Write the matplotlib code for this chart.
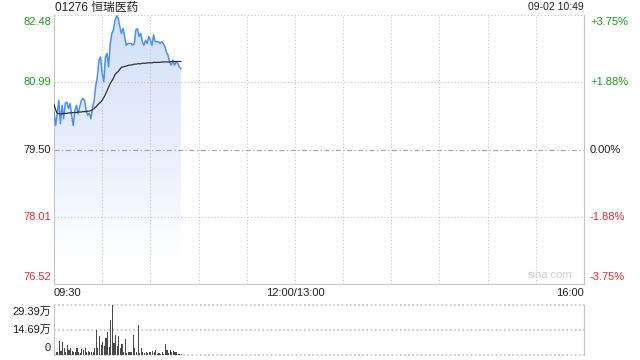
import numpy as np
import matplotlib
matplotlib.use("Agg")
import matplotlib.pyplot as plt
from matplotlib.patches import Polygon

plt.rcParams["font.family"] = ["Liberation Sans", "Noto Sans CJK SC", "DejaVu Sans"]
plt.rcParams["font.size"] = 8

# --- data ---
title = "01276 恒瑞医药"
stamp = "09-02 10:49"
prev_close = 79.50
price_ticks = [76.52, 78.01, 79.50, 80.99, 82.48]
pct_labels = ["-3.75%", "-1.88%", "0.00%", "+1.88%", "+3.75%"]
vol_ticks = [0, 14.69, 29.39]
vol_labels = ["0", "14.69万", "29.39万"]
time_labels = ["09:30", "12:00/13:00", "16:00"]
time_pos = [0, 150, 330]

price = [80.33, 80.03, 80.29, 80.59, 80.07, 80.48, 80.18, 80.52, 80.55, 80.41,
         80.52, 80.26, 80.03, 80.37, 80.48, 80.29, 80.44, 80.59, 80.63, 80.59,
         80.37, 80.26, 80.30, 80.18, 80.44, 80.59, 80.92, 81.11, 81.48, 81.55,
         81.18, 81.00, 81.55, 81.63, 81.33, 81.85, 82.07, 82.15, 82.37, 82.46,
         82.41, 82.22, 82.07, 82.18, 82.00, 81.81, 81.85, 81.85, 81.85, 81.81,
         81.85, 82.15, 82.18, 82.00, 82.07, 81.89, 81.81, 81.92, 81.85, 82.00,
         81.92, 81.81, 82.04, 81.89, 81.89, 81.89, 81.85, 81.89, 81.85, 81.78,
         81.66, 81.59, 81.44, 81.37, 81.48, 81.37, 81.44, 81.41, 81.33, 81.29]

avg = [80.50, 80.38, 80.30, 80.29, 80.29, 80.29, 80.30, 80.30, 80.30, 80.31,
       80.31, 80.31, 80.32, 80.32, 80.32, 80.33, 80.33, 80.33, 80.34, 80.34,
       80.34, 80.35, 80.35, 80.36, 80.38, 80.41, 80.44, 80.48, 80.52, 80.55,
       80.59, 80.65, 80.72, 80.80, 80.88, 80.96, 81.02, 81.08, 81.16, 81.20,
       81.23, 81.28, 81.32, 81.33, 81.34, 81.35, 81.36, 81.37, 81.37, 81.38,
       81.39, 81.39, 81.40, 81.40, 81.40, 81.41, 81.41, 81.41, 81.42, 81.42,
       81.42, 81.42, 81.43, 81.43, 81.43, 81.43, 81.43, 81.44, 81.44, 81.44,
       81.44, 81.44, 81.44, 81.45, 81.45, 81.45, 81.45, 81.45, 81.45, 81.45]

# volume in 万 shares
vol = [10.8, 2.0, 1.5, 8.2, 2.4, 7.8, 3.9, 1.8, 5.9, 2.9,
       3.9, 2.4, 2.0, 1.6, 3.9, 2.0, 1.2, 3.3, 2.9, 4.3,
       2.0, 2.4, 2.0, 1.6, 1.9, 3.9, 14.7, 4.3, 11.4, 5.9,
       7.8, 5.5, 10.2, 13.7, 4.9, 20.6, 29.39, 6.9, 11.8, 5.5,
       11.4, 4.3, 6.3, 2.0, 9.4, 1.2, 1.6, 2.0, 1.6, 11.8,
       4.3, 1.6, 17.6, 1.0, 4.3, 1.6, 1.4, 1.6, 1.0, 1.6,
       1.6, 2.4, 1.6, 2.9, 0.8, 1.2, 0.8, 1.6, 0.8, 6.3,
       2.9, 1.4, 2.9, 2.0, 2.4, 1.6, 2.0, 0.8, 0.6, 0.4]

GREEN = "#1a9e1a"
RED = "#ee2b2b"
GRID = "#c4c4c4"
FRAME = "#c4c4c4"

t = np.arange(len(price))
lo, hi = price_ticks[0], price_ticks[-1]

fig = plt.figure(figsize=(6.4, 3.6), dpi=100)
ax = fig.add_axes([54 / 640, 1 - 284 / 360, 530 / 640, 269 / 360])
axv = fig.add_axes([54 / 640, 1 - 355 / 360, 530 / 640, 50 / 360])

# main price panel
ax.set_xlim(0, 330)
ax.set_ylim(lo, hi)
for m in range(30, 330, 30):
    ax.axvline(m, color=GRID, ls=(0, (1, 2)), lw=0.8, zorder=2)
for p in price_ticks[1:]:
    if p == prev_close:
        ax.axhline(p, color="#a8a8a8", ls=(0, (4, 2, 1, 2)), lw=0.9, zorder=2)
    else:
        ax.axhline(p, color=GRID, ls=(0, (1, 2)), lw=0.8, zorder=2)

# gradient fill under price
cm = matplotlib.colors.LinearSegmentedColormap.from_list(
    "g", [(0.0, (1, 1, 1)), (0.08, (1, 1, 1)), (0.45, (0.92, 0.945, 0.99)),
          (1.0, (0.82, 0.875, 0.965))])
img = ax.imshow(np.linspace(1, 0, 256).reshape(-1, 1), cmap=cm, aspect="auto",
                extent=[0, t[-1], lo, hi], origin="upper", zorder=1, vmin=0, vmax=1)
poly = Polygon(np.column_stack([np.r_[t, t[-1], t[0]], np.r_[price, lo, lo]]),
               closed=True, transform=ax.transData, facecolor="none", edgecolor="none")
ax.add_patch(poly)
img.set_clip_path(poly)

ax.plot(t, price, color="#4f8ff0", lw=1.1, zorder=3)
ax.plot(t, avg, color="#333333", lw=0.9, zorder=4)

ax.set_xticks([]); ax.set_yticks([])
for s in ["left", "right", "bottom"]:
    ax.spines[s].set_color(FRAME)
ax.spines["top"].set_visible(False)

# left price labels / right percent labels
ycols = [RED, RED, "#222222", GREEN, GREEN]
for i, (p, lab, c) in enumerate(zip(price_ticks, pct_labels, ycols)):
    va = "bottom" if i == 0 else ("top" if i == len(price_ticks) - 1 else "center")
    dy = 2 if i == 0 else (-2 if i == len(price_ticks) - 1 else 0)
    ax.annotate(f"{p:.2f}", (0, p), xycoords=("axes fraction", "data"), xytext=(-3, dy),
                textcoords="offset pixels", ha="right", va=va, color=c, fontsize=8)
    ax.annotate(lab, (1, p), xycoords=("axes fraction", "data"), xytext=(6, dy),
                textcoords="offset pixels", ha="left", va=va, color=c, fontsize=8)

fig.text(55 / 640, 1 - 7.5 / 360, title, ha="left", va="center",
         fontsize=8.5, color="#222222")
fig.text(584 / 640, 1 - 7.5 / 360, stamp, ha="right", va="center",
         fontsize=7.5, color="#222222")
ax.text(0.935, 0.015, "sina.com", transform=ax.transAxes, ha="center", va="bottom",
        fontsize=8, color="#cfcfcf")

for pos, lab in zip(time_pos, time_labels):
    ha = "left" if pos == 0 else ("right" if pos == 330 else "center")
    ax.annotate(lab, (pos, 0), xycoords=("data", "axes fraction"), xytext=(0, -4),
                textcoords="offset pixels", ha=ha, va="top", fontsize=8, color="#222222")

# volume panel
axv.set_xlim(0, 330)
axv.set_ylim(0, vol_ticks[-1])
axv.bar(t, vol, width=0.7, color="#4a4a4a", align="edge", zorder=2)
for v in vol_ticks:
    axv.axhline(v, color=GRID, ls=(0, (1, 1.5)), lw=1.2, zorder=0, clip_on=False)
axv.set_xticks([]); axv.set_yticks([])
axv.spines["left"].set_color(FRAME)
axv.spines["right"].set_color(FRAME)
axv.spines["top"].set_visible(False)
axv.spines["bottom"].set_visible(False)
for v, lab, dy in zip(vol_ticks, vol_labels, [7, 0, -7]):
    axv.annotate(lab, (0, v), xycoords=("axes fraction", "data"), xytext=(-3, dy),
                 textcoords="offset pixels", ha="right", va="center", fontsize=8, color="#222222")

fig.savefig("out.png", dpi=100)
